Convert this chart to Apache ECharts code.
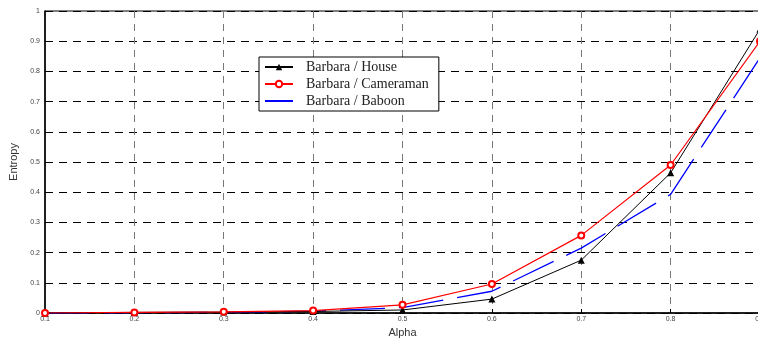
<!DOCTYPE html>
<html><head><meta charset="utf-8">
<script src="https://cdn.jsdelivr.net/npm/echarts@6/dist/echarts.min.js"></script>
<style>html,body{margin:0;padding:0;background:#fff}#c{width:758px;height:339px}</style>
</head><body><div id="c"></div>
<script>
const alpha = [0.1, 0.2, 0.3, 0.4, 0.5, 0.6, 0.7, 0.8, 0.9];
const house = [0, 0.002, 0.003, 0.005, 0.01, 0.046, 0.175, 0.464, 0.94];
const cameraman = [0, 0.002, 0.004, 0.008, 0.027, 0.096, 0.257, 0.49, 0.90];
const baboon = [0, 0.001, 0.002, 0.006, 0.018, 0.072, 0.215, 0.393, 0.845];
const names = ['Barbara / House', 'Barbara / Cameraman', 'Barbara / Baboon'];

const pairs = arr => alpha.map((a, i) => [a, arr[i]]);
const fmt = v => String(+v.toFixed(1));
const chart = echarts.init(document.getElementById('c'));
chart.setOption({
  animation: false,
  backgroundColor: '#fff',
  grid: { left: 45, right: -2, top: 11, bottom: 26, show: true, borderColor: '#000', borderWidth: 1,
          outerBoundsMode: 'none', containLabel: false },
  legend: {
    orient: 'vertical', left: 259, top: 57,
    backgroundColor: '#fff', borderColor: '#000', borderWidth: 1,
    padding: [2, 10, 2, 5], itemGap: 1, itemWidth: 28, itemHeight: 8,
    textStyle: { fontFamily: 'Liberation Serif', fontSize: 14, color: '#222', padding: [0, 0, 0, 8], lineHeight: 16 },
    data: [
      { name: names[0] },
      { name: names[1] },
      { name: names[2], itemStyle: { opacity: 0 } }
    ]
  },
  xAxis: {
    type: 'value', min: 0.1, max: 0.9, interval: 0.1,
    name: 'Alpha', nameLocation: 'middle', nameGap: 12,
    nameTextStyle: { fontFamily: 'Liberation Sans', fontSize: 11, color: '#333' },
    axisLine: { lineStyle: { color: '#000', width: 1.5 } },
    axisTick: { inside: true, length: 4, lineStyle: { color: '#000' } },
    axisLabel: { formatter: fmt, fontFamily: 'Liberation Sans', fontSize: 7, color: '#444', margin: 3 },
    splitLine: { show: true, lineStyle: { color: '#777', type: [7, 6], width: 1 } }
  },
  yAxis: {
    type: 'value', min: 0, max: 1, interval: 0.1,
    name: 'Entropy', nameLocation: 'middle', nameGap: 18, nameRotate: 90,
    nameTextStyle: { fontFamily: 'Liberation Sans', fontSize: 11, color: '#333' },
    axisLine: { show: true, lineStyle: { color: '#000', width: 1.5 } },
    axisTick: { show: true, inside: true, length: 4, lineStyle: { color: '#000' } },
    axisLabel: { formatter: fmt, fontFamily: 'Liberation Sans', fontSize: 7, color: '#444', margin: 5 },
    splitLine: { show: true, lineStyle: { color: '#000', type: [8, 6], width: 1 } }
  },
  series: [
    { name: names[0], type: 'line', data: pairs(house), symbol: 'triangle', symbolSize: 7,
      color: '#000', lineStyle: { color: '#000', width: 1 }, itemStyle: { color: '#000' }, z: 3 },
    { name: names[1], type: 'line', data: pairs(cameraman), symbol: 'emptyCircle', symbolSize: 6,
      color: '#f00', lineStyle: { color: '#f00', width: 1.2 }, itemStyle: { color: '#f00', borderColor: '#f00', borderWidth: 1.2 }, z: 4 },
    { name: names[2], type: 'line', data: pairs(baboon), symbol: 'none', showSymbol: false,
      color: '#00f', lineStyle: { color: '#00f', width: 1.3, type: [45, 14] }, z: 2 }
  ]
});
</script></body></html>
